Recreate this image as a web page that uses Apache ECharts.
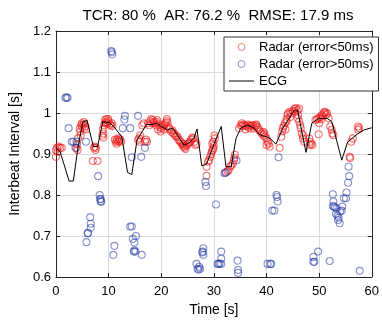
<!DOCTYPE html>
<html><head><meta charset="utf-8">
<script src="https://cdn.jsdelivr.net/npm/echarts@6/dist/echarts.min.js"></script>
<style>html,body{margin:0;padding:0;background:#fff}#c{width:382px;height:323px}</style>
</head><body><div id="c"></div>
<script>
var titleText = "TCR: 80 %  AR: 76.2 %  RMSE: 17.9 ms";
var xTicks = [0, 10, 20, 30, 40, 50, 60];
var yTicks = [0.6, 0.7, 0.8, 0.9, 1.0, 1.1, 1.2];
var seriesNames = ["Radar (error<50ms)", "Radar (error>50ms)", "ECG"];

var ecgTime = [0, 0.8, 2.5, 3.3, 4.2, 5.1, 5.9, 7.1, 7.9, 8.9, 10.1, 11.0, 12.5, 13.6, 14.4, 15.4, 17.2, 18.4, 19.1, 20.0, 21.2, 22.2, 24.3, 25.2, 26.2, 26.8, 27.7, 28.6, 30.2, 31.4, 32.3, 33.3, 34.2, 35.1, 36.4, 37.6, 38.8, 40.0, 40.7, 41.8, 43.1, 45.3, 45.9, 47.5, 48.6, 49.9, 51.5, 52.4, 54.3, 55.4, 57.4, 58.6, 60];
var ecgIBI = [0.915, 0.905, 0.834, 0.834, 0.918, 0.979, 0.982, 0.918, 0.918, 0.979, 0.977, 0.967, 0.942, 0.855, 0.850, 0.934, 0.972, 0.972, 0.975, 0.967, 0.959, 0.963, 0.922, 0.926, 0.938, 0.961, 0.871, 0.875, 0.930, 0.967, 0.869, 0.869, 0.938, 0.963, 0.971, 0.963, 0.946, 0.942, 0.938, 0.924, 0.963, 1.007, 1.007, 0.904, 0.975, 0.987, 0.987, 0.979, 0.885, 0.929, 0.950, 0.959, 0.964];

var redTime = [0.0,0.0,0.2,0.5,0.8,1.1,0.3,
 3.9,4.0,4.1,4.2,4.5,4.6,4.7,4.8,5.0,5.2,5.4,5.6,5.7,4.9,5.3,
 7.0,7.9,7.2,7.4,7.6,7.5,
 8.8,8.9,9.0,9.0,9.1,9.3,9.5,9.6,9.8,10.0,10.2,10.4,10.6,10.7,9.4,9.9,
 11.2,11.4,11.6,11.8,12.0,12.2,12.4,11.5,11.9,
 15.6,15.8,16.0,15.9,16.9,17.1,17.3,16.4,16.7,
 17.9,18.1,18.4,18.6,18.8,19.0,19.2,19.4,19.6,19.8,19.9,17.5,17.7,18.3,19.1,
 20.1,20.3,20.5,20.8,21.0,21.2,21.4,21.6,21.9,22.1,22.3,22.5,22.7,22.9,23.1,23.3,23.5,23.7,23.9,24.1,24.3,24.5,24.7,24.9,25.1,25.3,25.5,25.7,25.9,26.1,26.3,26.5,26.7,20.6,21.1,24.2,24.6,
 28.6,28.6,28.9,29.1,29.3,29.5,29.6,29.8,29.9,29.9,30.0,30.2,30.1,29.7,
 32.3,32.6,32.8,33.1,33.3,33.6,33.8,34.0,33.9,
 34.8,35.1,35.4,35.6,35.9,36.1,36.4,36.6,36.9,37.1,37.4,37.6,37.8,38.1,38.3,38.5,38.8,39.1,39.4,39.6,36.0,37.0,35.3,38.0,
 39.4,39.7,40.0,40.2,40.4,40.6,40.0,
 42.5,42.8,43.0,43.1,43.3,43.5,43.8,43.8,44.0,44.1,44.4,44.7,45.0,45.3,45.6,45.9,46.2,46.0,45.9,46.2,46.4,46.5,46.7,46.9,47.2,47.0,44.5,43.6,45.4,
 48.1,48.3,48.5,48.7,48.2,
 49.3,49.6,49.9,50.2,50.5,50.9,51.2,51.5,51.3,51.8,52.1,52.4,52.7,52.5,49.9,50.0,50.4,51.0,50.7,
 55.8,55.9,56.1,56.4,57.4,57.4,57.6];
var redIBI = [0.893,0.91,0.915,0.918,0.915,0.915,0.905,
 0.915,0.924,0.91,0.938,0.962,0.955,0.945,0.97,0.965,0.972,0.962,0.968,0.96,0.975,0.978,
 0.883,0.883,0.915,0.918,0.915,0.91,
 0.945,0.96,0.95,0.94,0.97,0.983,0.978,0.985,0.975,0.98,0.972,0.97,0.975,0.968,0.975,0.985,
 0.935,0.93,0.935,0.93,0.932,0.935,0.93,0.925,0.938,
 0.934,0.938,0.945,0.93,0.93,0.935,0.93,0.97,0.975,
 0.98,0.985,0.983,0.978,0.975,0.97,0.983,0.96,0.972,0.965,0.955,0.975,0.97,0.975,0.978,
 0.963,0.968,0.96,0.975,0.98,0.977,0.965,0.96,0.954,0.958,0.95,0.95,0.945,0.942,0.942,0.935,0.932,0.93,0.925,0.92,0.918,0.915,0.92,0.922,0.925,0.928,0.93,0.935,0.94,0.938,0.93,0.922,0.925,0.972,0.985,0.925,0.912,
 0.869,0.847,0.881,0.885,0.893,0.9,0.906,0.91,0.914,0.93,0.92,0.938,0.945,0.925,
 0.855,0.858,0.861,0.869,0.872,0.877,0.885,0.898,0.89,
 0.962,0.97,0.968,0.972,0.97,0.968,0.972,0.965,0.97,0.968,0.97,0.962,0.968,0.97,0.965,0.96,0.955,0.95,0.954,0.95,0.96,0.962,0.975,0.972,
 0.946,0.942,0.938,0.93,0.925,0.918,0.922,
 0.915,0.942,0.955,0.963,0.968,0.975,0.979,0.985,0.995,0.999,1.003,0.999,1.005,1.01,1.012,1.007,1.011,0.995,0.987,0.979,0.97,0.963,0.95,0.938,0.93,0.945,0.99,0.96,1.004,
 0.938,0.93,0.925,0.922,0.922,
 0.983,0.985,0.987,0.99,0.995,0.999,1.002,0.999,0.995,0.987,0.967,0.959,0.946,0.95,0.948,0.975,0.985,1.003,0.992,
 0.893,0.89,0.93,0.938,0.967,0.959,0.963];

var blueTime = [1.8,2.0,2.2,2.4,3.0,3.3,3.7,3.9,5.7,8.0,8.3,8.4,8.5,8.6,8.5,6.5,6.6,6.6,6.1,6.0,5.8,
 10.5,10.6,10.7,11.1,10.9,13.1,13.0,12.7,14.1,15.6,16.9,16.2,14.4,14.1,14.4,14.6,15.2,14.9,14.8,15.1,14.9,16.3,
 28.4,28.5,30.4,32.0,32.2,34.3,28.0,27.9,28.0,27.8,26.7,26.9,27.1,27.4,27.2,30.7,30.9,31.1,31.4,31.4,31.4,34.5,34.6,34.6,
 40.2,40.7,40.9,42.3,41.9,42.0,42.1,41.1,41.5,48.9,49.1,48.9,49.8,52.0,57.7,
 52.6,52.7,52.8,53.3,53.2,53.6,53.9,53.7,54.3,54.4,54.7,55.1,55.2,55.5,55.7,55.6,52.6,53.0,54.0,53.5];
var blueIBI = [1.037,1.038,1.037,0.963,0.93,0.93,0.915,0.93,0.93,0.846,0.80,0.79,0.785,0.783,0.79,0.746,0.73,0.72,0.707,0.707,0.685,
 1.151,1.148,1.143,0.676,0.654,0.993,0.984,0.963,0.963,0.993,0.915,0.893,0.892,0.723,0.723,0.693,0.70,0.684,0.662,0.662,0.665,0.654,
 0.832,0.822,0.777,0.853,0.855,0.884,0.67,0.662,0.654,0.66,0.632,0.62,0.618,0.62,0.625,0.632,0.632,0.633,0.632,0.662,0.645,0.64,0.617,0.61,
 0.632,0.632,0.632,0.892,0.80,0.795,0.784,0.762,0.762,0.649,0.637,0.637,0.662,0.639,0.615,
 0.802,0.784,0.772,0.767,0.754,0.739,0.731,0.745,0.762,0.772,0.792,0.792,0.806,0.83,0.846,0.869,0.773,0.77,0.76,0.75];

function pairs(a, b) { return a.map(function (v, i) { return [v, b[i]]; }); }

var FONT = '"Liberation Sans", Arial, sans-serif';
var axisCol = '#262626';
var redStroke = 'rgba(238,20,20,0.72)';
var blueStroke = 'rgba(35,55,165,0.68)';

var chart = echarts.init(document.getElementById('c'), null, {renderer: 'canvas'});
chart.setOption({
  animation: false,
  backgroundColor: '#fff',
  title: {text: titleText, left: 213, top: 3, textAlign: 'center',
    textStyle: {fontFamily: FONT, fontSize: 15, fontWeight: 'normal', color: '#000'}},
  grid: {left: 52, right: 6, top: 31, bottom: 46, containLabel: false},
  legend: {
    orient: 'vertical', left: 224, top: 37, width: 146,
    backgroundColor: '#fff', borderColor: '#333', borderWidth: 1, borderRadius: 0,
    padding: [3, 5, 3, 5], itemGap: 3, itemWidth: 25, itemHeight: 7,
    textStyle: {fontFamily: FONT, fontSize: 13, color: '#000', lineHeight: 14},
    data: [
      {name: seriesNames[0], icon: 'circle', itemStyle: {color: 'rgba(0,0,0,0)', borderColor: redStroke, borderWidth: 1}},
      {name: seriesNames[1], icon: 'circle', itemStyle: {color: 'rgba(0,0,0,0)', borderColor: blueStroke, borderWidth: 1}},
      {name: seriesNames[2], icon: 'path://M0,0 L25,0 L25,1 L0,1 Z', itemStyle: {color: '#000', borderWidth: 0}}
    ]
  },
  xAxis: [{
    type: 'value', min: xTicks[0], max: xTicks[xTicks.length - 1], interval: 10,
    name: 'Time [s]', nameLocation: 'middle', nameGap: 25,
    nameTextStyle: {fontFamily: FONT, fontSize: 14, color: '#000'},
    axisLine: {show: true, lineStyle: {color: axisCol, width: 1}},
    axisTick: {show: true, inside: true, length: 4, lineStyle: {color: axisCol}},
    axisLabel: {fontFamily: FONT, fontSize: 13, color: '#000', margin: 8},
    splitLine: {show: true, lineStyle: {color: '#dadada', width: 1}}
  }, {
    type: 'value', position: 'top', min: xTicks[0], max: xTicks[xTicks.length - 1], interval: 10,
    axisLine: {show: true, onZero: false, lineStyle: {color: axisCol, width: 1}},
    axisTick: {show: true, inside: true, length: 4, lineStyle: {color: axisCol}},
    axisLabel: {show: false}, splitLine: {show: false}
  }],
  yAxis: [{
    type: 'value', min: yTicks[0], max: yTicks[yTicks.length - 1], interval: 0.1,
    name: 'Interbeat Interval [s]', nameLocation: 'middle', nameGap: 27,
    nameTextStyle: {fontFamily: FONT, fontSize: 14, color: '#000'},
    axisLine: {show: true, onZero: false, lineStyle: {color: axisCol, width: 1}},
    axisTick: {show: true, inside: true, length: 4, lineStyle: {color: axisCol}},
    axisLabel: {fontFamily: FONT, fontSize: 13, color: '#000', margin: 5,
      formatter: function (v) { return String(Math.round(v * 10) / 10); }},
    splitLine: {show: true, lineStyle: {color: '#dadada', width: 1}}
  }, {
    type: 'value', position: 'right', min: yTicks[0], max: yTicks[yTicks.length - 1], interval: 0.1,
    axisLine: {show: true, onZero: false, lineStyle: {color: axisCol, width: 1}},
    axisTick: {show: true, inside: true, length: 4, lineStyle: {color: axisCol}},
    axisLabel: {show: false}, splitLine: {show: false}
  }],
  series: [{
    name: seriesNames[0], type: 'scatter', symbol: 'circle', symbolSize: 7,
    itemStyle: {color: 'rgba(0,0,0,0)', borderColor: redStroke, borderWidth: 1.1},
    data: pairs(redTime, redIBI), z: 3
  }, {
    name: seriesNames[1], type: 'scatter', symbol: 'circle', symbolSize: 7,
    itemStyle: {color: 'rgba(0,0,0,0)', borderColor: blueStroke, borderWidth: 1.1},
    data: pairs(blueTime, blueIBI), z: 3
  }, {
    name: seriesNames[2], type: 'line', symbol: 'none', showSymbol: false,
    lineStyle: {color: '#000', width: 1},
    data: pairs(ecgTime, ecgIBI), z: 4
  }]
});
</script></body></html>
